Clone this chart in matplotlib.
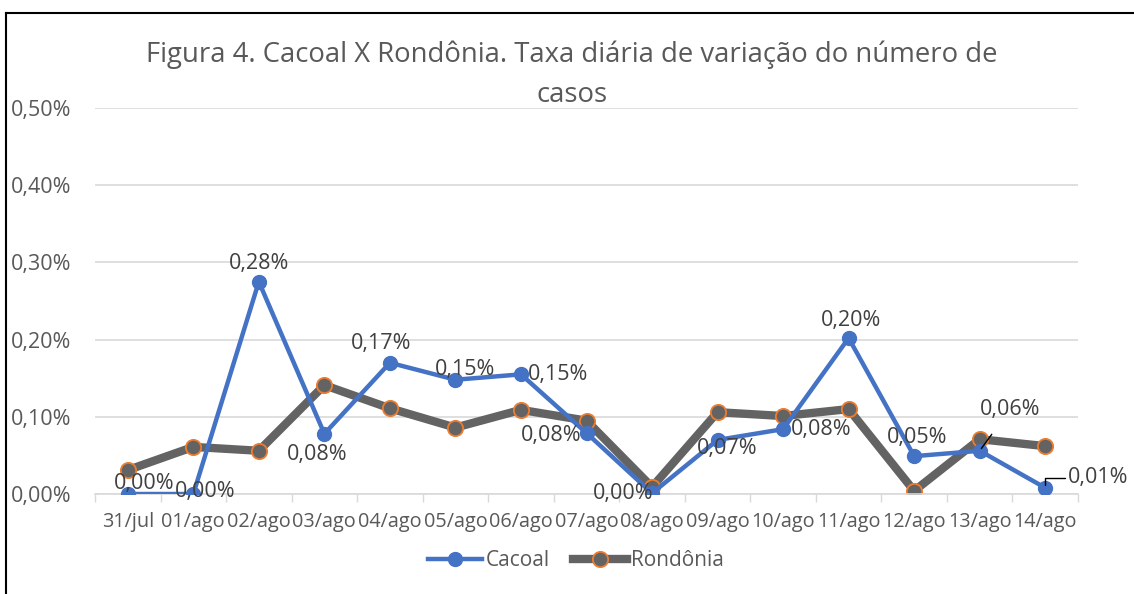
import matplotlib.pyplot as plt
from matplotlib.lines import Line2D

# data (values in %)
dates = ["31/jul", "01/ago", "02/ago", "03/ago", "04/ago", "05/ago", "06/ago", "07/ago",
         "08/ago", "09/ago", "10/ago", "11/ago", "12/ago", "13/ago", "14/ago"]
cacoal = [0.000, 0.000, 0.275, 0.078, 0.170, 0.148, 0.155, 0.079,
          0.001, 0.070, 0.084, 0.202, 0.049, 0.056, 0.008]
rondonia = [0.031, 0.061, 0.056, 0.141, 0.111, 0.086, 0.109, 0.095,
            0.009, 0.106, 0.101, 0.110, 0.004, 0.071, 0.062]
yticks = [0.0, 0.1, 0.2, 0.3, 0.4, 0.5]

# label offsets in pixels (dx, dy)
label_offsets = [(16, 11), (12, 3), (0, 18), (-7, -21), (-9, 19), (10, 10), (37, 0), (-35, -2),
                 (-29, 0), (10, -9), (38, 0), (2, 18), (3, 19), (30, 41), (53, 10)]

plt.rcParams['font.family'] = ['Open Sans', 'DejaVu Sans']
txt = '#595959'
lab_size = 15.5

fig = plt.figure(figsize=(11.34, 5.94), dpi=100)
ax = fig.add_axes([95 / 1134, 1 - 494 / 594, 983 / 1134, 386 / 594])

x = list(range(len(dates)))
ax.plot(x, rondonia, color='#636363', lw=6, marker='o', ms=11,
        mfc='#636363', mec='#ED7D31', mew=1.3, zorder=2, label='Rondônia')
ax.plot(x, cacoal, color='#4472C4', lw=3.2, marker='o', ms=10,
        mfc='#4472C4', mec='#4472C4', zorder=3, label='Cacoal')

for i, (v, (dx, dy)) in enumerate(zip(cacoal, label_offsets)):
    lab = f"{v:.2f}%".replace('.', ',')
    if i == 13:
        ax.annotate(lab, (i, v), xytext=(dx, dy), textcoords='offset pixels',
                    ha='center', va='center', fontsize=lab_size, color='#404040', zorder=5,
                    arrowprops=dict(arrowstyle='-', color='black', lw=1,
                                    shrinkA=10, shrinkB=2))
    elif i == 14:
        ax.annotate(lab, (i, v), xytext=(dx, dy), textcoords='offset pixels',
                    ha='center', va='center', fontsize=lab_size, color='#404040', zorder=5,
                    arrowprops=dict(arrowstyle='-', color='black', lw=1,
                                    connectionstyle='angle,angleA=0,angleB=90,rad=0',
                                    shrinkA=30, shrinkB=2))
    else:
        ax.annotate(lab, (i, v), xytext=(dx, dy), textcoords='offset pixels',
                    ha='center', va='center', fontsize=lab_size, color='#404040', zorder=5)

ax.set_xlim(-0.5, len(dates) - 0.5)
ax.set_ylim(0, 0.5)
ax.set_yticks(yticks)
ax.set_yticklabels([f"{t:.2f}%".replace('.', ',') for t in yticks])
ax.set_xticks(x)
ax.set_xticklabels(dates)
ax.set_xticks([i - 0.5 for i in range(len(dates) + 1)], minor=True)
ax.tick_params(axis='x', which='major', length=0, pad=13, labelsize=14.3, colors=txt)
ax.tick_params(axis='x', which='minor', length=6, color='#d9d9d9', width=1)
ax.tick_params(axis='y', length=0, pad=17, labelsize=15.5, colors=txt)
ax.grid(axis='y', color='#d9d9d9', lw=1.2)
ax.set_axisbelow(True)
for s in ['top', 'right', 'left']:
    ax.spines[s].set_visible(False)
ax.spines['bottom'].set_color('#d9d9d9')
ax.spines['bottom'].set_linewidth(1.2)

fig.text(572 / 1134, 1 - 75 / 594,
         "Figura 4. Cacoal X Rondônia. Taxa diária de variação do número de\ncasos",
         ha='center', va='center', fontsize=19.8, color=txt, linespacing=1.55)

handles = [Line2D([], [], color='#4472C4', lw=3.2, marker='o', ms=10, mfc='#4472C4'),
           Line2D([], [], color='#636363', lw=6, marker='o', ms=11, mfc='#636363',
                  mec='#ED7D31', mew=1.3)]
fig.legend(handles, ['Cacoal', 'Rondônia'], loc='center', bbox_to_anchor=(576 / 1134, 1 - 561 / 594),
           ncol=2, frameon=False, fontsize=15, labelcolor=txt, handlelength=2.6,
           handletextpad=0.2, columnspacing=1.1)

# outer chart border (left and top visible)
fig.add_artist(Line2D([6 / 1134, 6 / 1134], [0, 1 - 13 / 594], color='black', lw=1.5))
fig.add_artist(Line2D([6 / 1134, 1], [1 - 13 / 594, 1 - 13 / 594], color='black', lw=1.5))

fig.savefig('out.png', dpi=100)
